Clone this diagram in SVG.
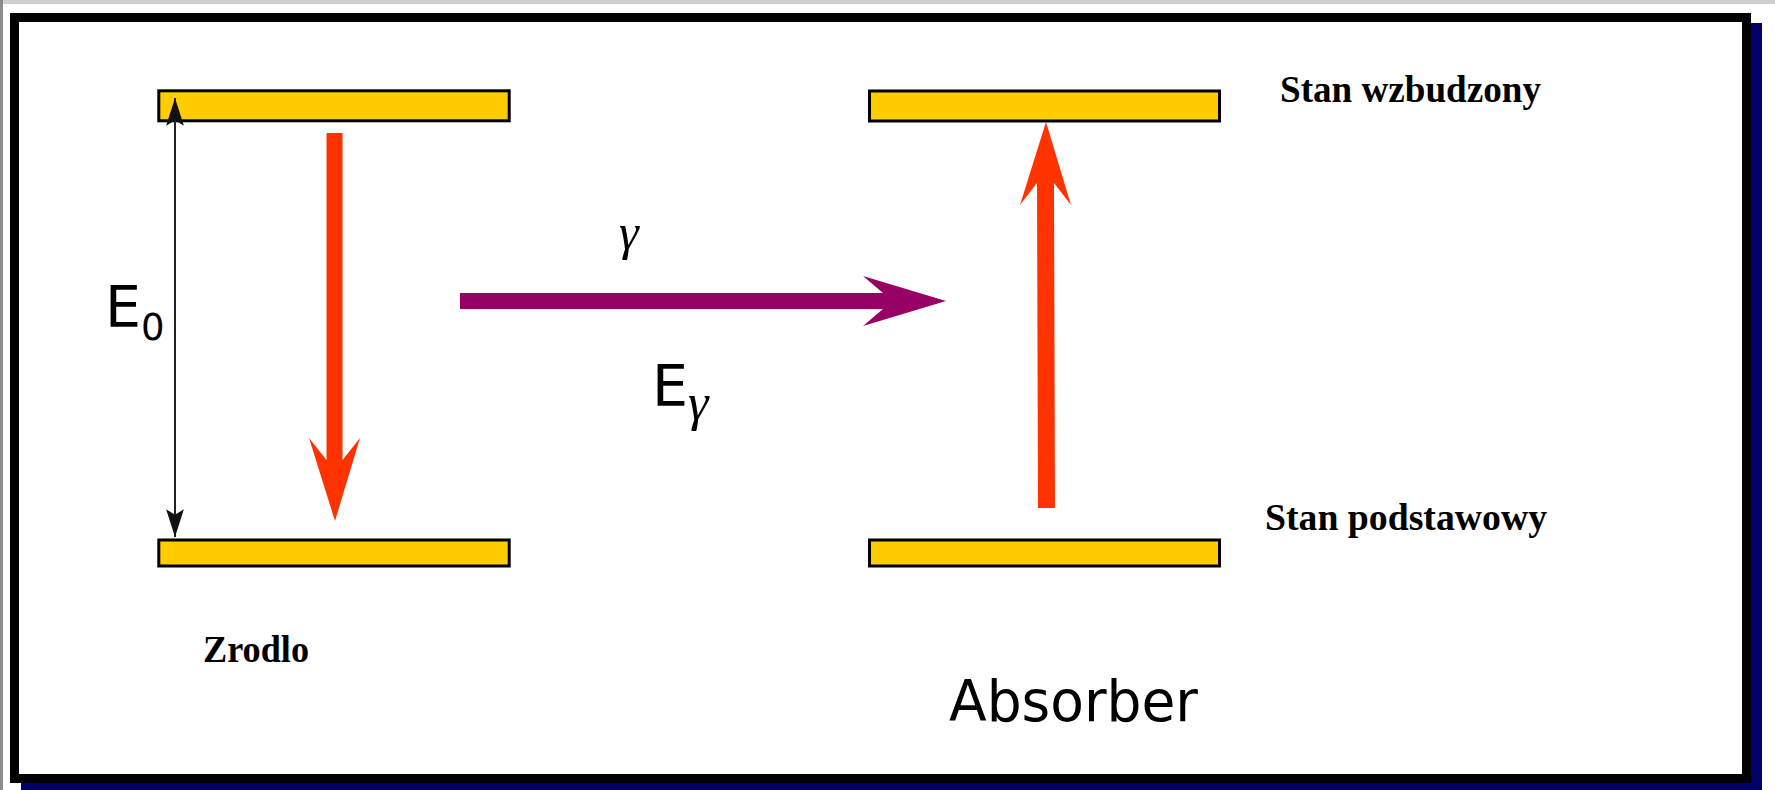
<svg xmlns="http://www.w3.org/2000/svg" width="1775" height="790" viewBox="0 0 1775 790">
<style>
.bar{fill:#FFCC00;stroke:#000;stroke-width:3}
.sans{font-family:"DejaVu Sans",sans-serif;fill:#000}
.lbl{font-family:"Liberation Serif",serif;font-weight:bold;font-size:37px;fill:#000}
.gam{font-family:"Liberation Serif",serif;font-style:italic;fill:#000}
.red{fill:#FF3300}
.pur{fill:#990066}
</style>
<defs>
<marker id="ah" markerUnits="userSpaceOnUse" markerWidth="30" markerHeight="20" viewBox="-26 -9 27 18" refX="0" refY="0" orient="auto-start-reverse">
<path d="M0,0 L-25,-8 L-20,0 L-25,8 Z" fill="#111"/>
</marker>
</defs>
<rect x="0" y="0" width="1775" height="790" fill="#fff"/>
<rect x="0" y="0" width="1775" height="4" fill="#cfcfcf"/>
<rect x="0" y="0" width="3" height="790" fill="#8c8c8c"/>
<g id="frame">
<rect x="21" y="23" width="1741" height="772" fill="#000066"/>
<rect x="14.5" y="17.5" width="1732" height="761" fill="#fff" stroke="#000" stroke-width="9"/>
</g>
<g id="source-excited"><rect class="bar" x="158.8" y="90.8" width="350.4" height="30"/></g>
<g id="source-ground"><rect class="bar" x="158.8" y="540" width="350.4" height="26"/></g>
<g id="absorber-excited"><rect class="bar" x="869.5" y="91" width="350" height="30"/></g>
<g id="absorber-ground"><rect class="bar" x="869.5" y="540" width="350" height="26"/></g>
<g id="connectors">
<line x1="175" y1="98" x2="175" y2="537" stroke="#222" stroke-width="2" marker-start="url(#ah)" marker-end="url(#ah)"/>
<polygon class="red" points="326.5,133 342.5,133 342.5,460 360,438 335,521 309,438 326.5,460"/>
<polygon class="red" points="1038,508 1055,508 1054,183 1071,205 1046,122 1020,205 1037,183"/>
<polygon class="pur" points="460,293 883,293 863,276 946,301 863,326 883,309 460,309"/>
</g>
<g id="labels">
<text class="sans" x="105" y="326.7" font-size="57">E<tspan font-size="37" y="340">0</tspan></text>
<text class="gam" x="619" y="249" font-size="50">γ</text>
<text class="sans" x="652" y="405.7" font-size="57">E<tspan class="gam" font-size="52" y="420">γ</tspan></text>
<text class="lbl" x="1280" y="102" textLength="261" lengthAdjust="spacingAndGlyphs">Stan wzbudzony</text>
<text class="lbl" x="1265" y="530" textLength="282" lengthAdjust="spacingAndGlyphs">Stan podstawowy</text>
<text class="lbl" x="203" y="662" textLength="106" lengthAdjust="spacingAndGlyphs">Zrodlo</text>
<text class="sans" x="949" y="720.7" font-size="57" textLength="249" lengthAdjust="spacingAndGlyphs">Absorber</text>
</g>
</svg>
